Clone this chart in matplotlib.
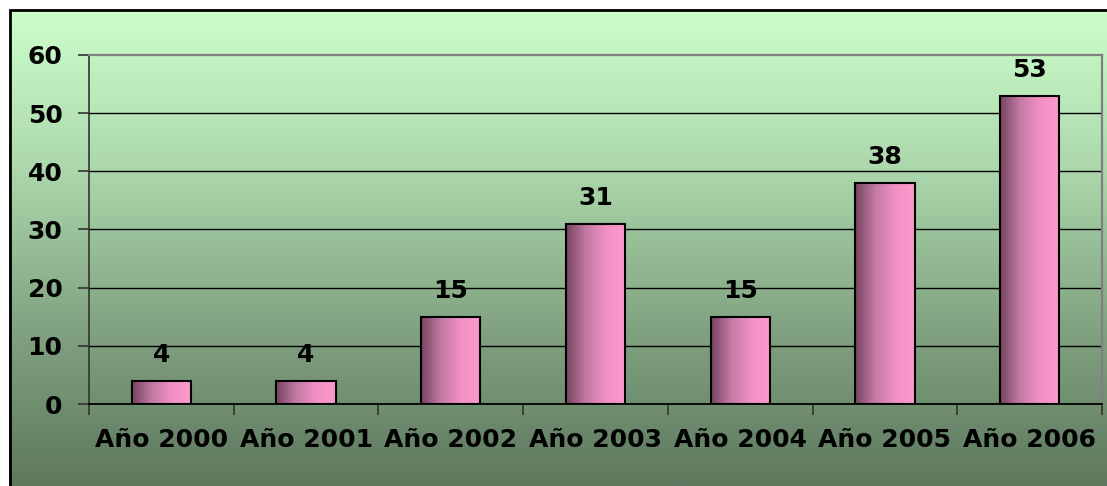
import numpy as np
import matplotlib
matplotlib.use("Agg")
import matplotlib.pyplot as plt
from matplotlib.colors import LinearSegmentedColormap
from matplotlib.patches import Rectangle

categories = ["Año 2000", "Año 2001", "Año 2002", "Año 2003", "Año 2004", "Año 2005", "Año 2006"]
values = [4, 4, 15, 31, 15, 38, 53]
yticks = [0, 10, 20, 30, 40, 50, 60]

W, H = 1107, 486
fig = plt.figure(figsize=(W / 100, H / 100), dpi=100)
fig.patch.set_facecolor("white")

# background gradient panel (chart area), frame cut by the image edges
bg = fig.add_axes([9 / W, 0, 1 - 9 / W, (H - 10) / H])
bg_cmap = LinearSegmentedColormap.from_list("bg", ["#CCFFCC", "#ACD8AC", "#82A382", "#5E785E"])
grad = np.linspace(0, 1, 256).reshape(-1, 1)
bg.imshow(grad, aspect="auto", cmap=bg_cmap, extent=[0, 1, 0, 1], origin="upper")
bg.set_xlim(0, 1)
bg.set_ylim(0, 1)
bg.axis("off")
fig.add_artist(Rectangle((9.5 / W, -0.1), 1.2, (H - 10) / H + 0.1, transform=fig.transFigure,
                         fill=False, edgecolor="black", linewidth=2.0, zorder=5))

# main plot axes
ax = fig.add_axes([89 / W, 82 / H, (1102 - 89) / W, (404 - 55) / H])
ax.patch.set_alpha(0)
x = np.arange(len(categories))
bars = ax.bar(x, values, width=0.41, facecolor="none", edgecolor="black", linewidth=1.5, zorder=4)

bar_cmap = LinearSegmentedColormap.from_list("bar", ["#76445F", "#C27AA3", "#F290C4", "#FF99CC"])
hgrad = np.linspace(0, 1, 256).reshape(1, -1)
for b in bars:
    x0, y0 = b.get_x(), b.get_y()
    w, h = b.get_width(), b.get_height()
    ax.imshow(hgrad, aspect="auto", cmap=bar_cmap, extent=[x0, x0 + w, y0, y0 + h],
              origin="lower", zorder=3)

for xi, v in zip(x, values):
    ax.annotate(str(v), (xi, v), xytext=(0, 10), textcoords="offset points",
                ha="center", va="bottom", fontsize=18, fontweight="bold", color="black")

ax.set_xlim(-0.5, len(categories) - 0.5)
ax.set_ylim(0, 60)
ax.set_yticks(yticks)
ax.set_yticklabels([str(t) for t in yticks], fontsize=18, fontweight="bold")
ax.set_xticks(x)
ax.set_xticklabels(categories, fontsize=18, fontweight="bold")
ax.set_xticks(np.arange(len(categories) + 1) - 0.5, minor=True)
ax.tick_params(axis="x", which="major", length=0, pad=17)
ax.tick_params(axis="x", which="minor", length=8, width=1.2, direction="out", color="#333333")
ax.tick_params(axis="y", length=8, width=1.2, direction="out", pad=11, color="#333333")

for yv in yticks[1:-1]:
    ax.axhline(yv, color="black", linewidth=1.0, zorder=1)

ax.spines["left"].set_color("#333333")
ax.spines["left"].set_linewidth(1.2)
ax.spines["bottom"].set_color("black")
ax.spines["bottom"].set_linewidth(1.3)
ax.spines["top"].set_color("#808080")
ax.spines["top"].set_linewidth(1.6)
ax.spines["right"].set_color("#808080")
ax.spines["right"].set_linewidth(1.6)

fig.savefig("out.png", dpi=100)
